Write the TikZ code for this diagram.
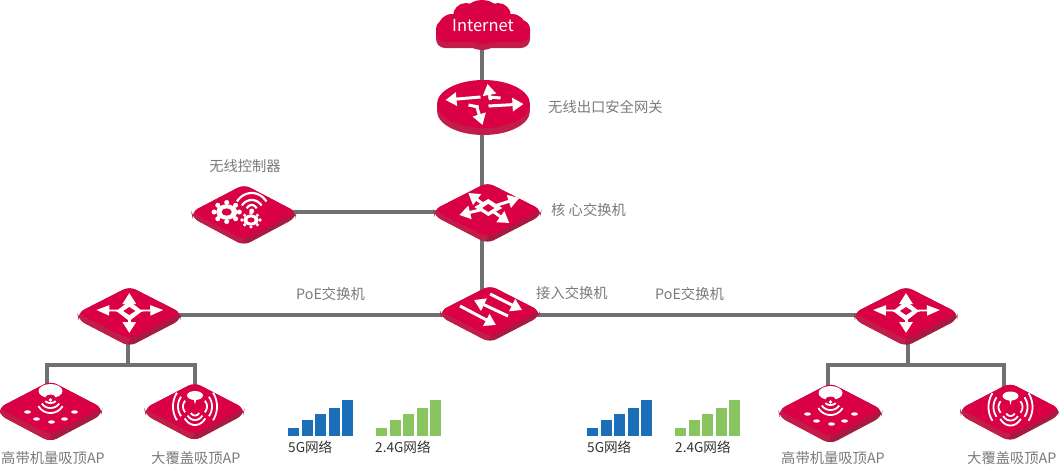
\documentclass[tikz,border=0pt]{standalone}
\usepackage{fontspec}
\setmainfont{Noto Sans CJK SC}
\usepackage{xcolor}
\usetikzlibrary{arrows.meta}
\definecolor{redtop}{HTML}{D90045}
\definecolor{redleft}{HTML}{C21D48}
\definecolor{redright}{HTML}{A81A3F}
\definecolor{wire}{HTML}{707070}
\definecolor{labelgray}{HTML}{7A7A7A}
\definecolor{barblue}{HTML}{1B6FB8}
\definecolor{bargreen}{HTML}{88C45F}
\newcommand{\wavearc}[7][1.8pt]{\draw[white,line width=#1] plot[domain=#6:#7,samples=16,smooth] ({#2+#4*cos(\x)},{#3+#5*sin(\x)});}
\tikzset{
  pics/tile/.style n args={3}{code={
    \fill[redright,rounded corners=7pt] (0,-#2-1.5) -- (#1+1.5,0) -- (#1+0.5,#3) -- (0,#2+#3+1.5) -- (-#1-0.5,#3) -- (-#1-1.5,0) -- cycle;
    \fill[redleft,rounded corners=7pt] (0,-5) -- (-#1-1.5,0) -- (-#1-0.5,#3) -- (0,#2+#3+1.5) -- cycle;
    \fill[redtop,rounded corners=7pt] (0,-#2-1.5) -- (#1+1.5,0) -- (0,#2+1.5) -- (-#1-1.5,0) -- cycle;
  }},
  pics/gear/.style n args={1}{code={
    \fill[white] (0,0) ellipse ({#1*0.75} and {#1*0.55});
    \foreach \ang in {0,45,...,315}
      \fill[white] (\ang:{#1*0.9} and {#1*0.68}) circle ({#1*0.18});
    \fill[redtop] (0,0) ellipse ({#1*0.36} and {#1*0.26});
  }}
}
\begin{document}
\begin{tikzpicture}[x=1pt,y=-1pt,
  every node/.style={font=\fontsize{14.3}{16}\selectfont,text=labelgray,inner sep=0pt},
  dev/.style={inner sep=0pt,minimum size=0pt},
  link/.style={draw=wire,line width=4pt},
  warrow/.style={white,line width=3pt,-{Triangle[width=13pt,length=11pt]}},
  wbar/.style={white,line width=3pt},
  wthin/.style={white,line width=1.8pt,-{Triangle[width=10pt,length=13pt]}},
  lab/.style={anchor=west},
  netlab/.style={anchor=west,text=black!80,font=\fontsize{13.6}{14}\selectfont}]
 \useasboundingbox (0,0) rectangle (1059,466);
 \node[dev] (inet)  at (482,24) {};
 \node[dev] (gw)    at (482,104) {};
 \node[dev] (core)  at (482,211) {};
 \node[dev] (ctrl)  at (244,212) {};
 \node[dev] (acc)   at (490,315) {};
 \node[dev] (poeL)  at (128,315) {};
 \node[dev] (poeR)  at (908,315) {};
 \node[dev] (apL1)  at (47,400) {};
 \node[dev] (apL2)  at (195,400) {};
 \node[dev] (apR1)  at (827.5,400) {};
 \node[dev] (apR2)  at (1004,400) {};
 \coordinate (busL) at (128,365);
 \coordinate (busR) at (908,365);
 % wires first, devices lie on top
 \draw[link] (inet) -- (gw);
 \draw[link] (gw) -- (core);
 \draw[link] (core) -- (core |- acc);
 \draw[link] (ctrl) -- (core |- ctrl);
 \draw[link] (poeL) -- (acc);
 \draw[link] (acc) -- (poeR);
 \draw[link] (poeL) -- (poeL |- busL);
 \draw[link] (poeR) -- (poeR |- busR);
 \draw[link] (apL1) |- (busL) -| (apL2);
 \draw[link] (apR1) |- (busR) -| (apR2);
 % cloud
 \foreach \dy/\cc in {6/redleft,0/redtop} {
   \fill[\cc] (482,22+\dy) circle (22pt);
   \fill[\cc] (452,28+\dy) circle (14pt);
   \fill[\cc] (512,28+\dy) circle (14pt);
   \fill[\cc] (466,16+\dy) circle (13pt);
   \fill[\cc] (498,16+\dy) circle (13pt);
   \fill[\cc,rounded corners=9pt] (436,20+\dy) rectangle (530,42+\dy);
 }
 \node[text=white,font=\fontsize{16.5}{20}\selectfont] (inettxt) at (483,26) {Internet};
 % gateway
 \fill[redleft] (483.5,111) ellipse (46.5pt and 24pt);
 \fill[redleft] (437,104) rectangle (530,111);
 \fill[redtop] (483.5,104) ellipse (46.5pt and 24pt);
 \begin{scope}[shift={(483.5,104)}]
  \draw[warrow] (-3,-7) -- (-38,-4);
  \draw[wbar] (17,-6) -- (5,-7);
  \draw[warrow] (7,-4) -- (4,-20);
  \draw[warrow] (5,2) -- (40,0);
  \draw[wbar] (-15,1) -- (-5,3);
  \draw[warrow] (-7,2) -- (-1,21);
 \end{scope}
 % core switch
 \pic at (487.5,210) {tile={52.5}{26}{6}};
 \begin{scope}[shift={(488.3,208)}]
  \draw[warrow] (0,0) -- (-20,-15);
  \draw[warrow] (0,0) -- (31,-10);
  \draw[warrow] (0,0) -- (-29,7);
  \draw[warrow] (0,0) -- (21,15);
  \fill[white] (-14,-1) -- (0,-9) -- (14,0) -- (0,8) -- cycle;
  \fill[redtop] (-6,0) -- (0,-4) -- (6,0) -- (0,4) -- cycle;
 \end{scope}
 % controller
 \pic at (244,212) {tile={51}{26}{6}};
 \pic at (226.7,212) {gear={14}};
 \pic at (251,220) {gear={10}};
 \fill[white] (251.7,211) circle (2.5pt);
 \wavearc[2.2pt]{251.7}{213}{18}{20}{215}{325}
 \wavearc[2.2pt]{251.7}{213}{12}{13}{215}{325}
 \wavearc[2.2pt]{251.7}{213}{6}{8}{215}{325}
 % access switch
 \pic at (490,311) {tile={48.5}{24}{6}};
 \begin{scope}[shift={(490,313)}]
  \draw[warrow] (0,-19) -- (32,-3);
  \draw[warrow] (18,3) -- (-16,-13);
  \draw[warrow] (-30,-7) -- (6,12);
 \end{scope}
 % PoE switches
 \foreach \px/\tx in {129.5/129.3,906/906} {
  \pic at (\px,313) {tile={50.5}{25}{7}};
  \begin{scope}[shift={(\tx,311)}]
   \draw[wthin] (0,0) -- (-33,-1);
   \draw[wthin] (0,0) -- (34,-1);
   \draw[warrow] (0,0) -- (0,-18);
   \draw[warrow] (0,0) -- (0,22);
   \fill[white] (0,-10) -- (13,0) -- (0,10) -- (-13,0) -- cycle;
   \fill[redtop] (0,-4) -- (6,0) -- (0,4) -- (-6,0) -- cycle;
  \end{scope}
 }
 % high density AP
 \foreach \ax/\ay in {50.5/408,830.5/410} {
  \pic at (\ax,\ay) {tile={50.5}{25.5}{7}};
  \begin{scope}[shift={(\ax,\ay)}]
   \fill[white] (0,-17) ellipse (12pt and 7pt);
   \fill[redtop] (0,-10.5) ellipse (5pt and 3pt);
   \fill[white] (0,-8) circle (1.8pt);
  \end{scope}
  \wavearc{\ax}{\ay-9}{6}{4}{30}{150}
  \wavearc{\ax}{\ay-9}{10}{9}{30}{150}
  \wavearc{\ax}{\ay-9}{14}{14}{30}{150}
  \begin{scope}[shift={(\ax,\ay)}]
   \foreach \dx/\dy in {-23/4,-14/11,1/14,14/11,24/4}
     \fill[white] (\dx,\dy) ellipse (3.4pt and 1.7pt);
  \end{scope}
 }
 % wide coverage AP
 \foreach \ax/\ay in {195/408.5,1010.5/409} {
  \pic at (\ax-0.5,\ay) {tile={48.5}{24.5}{6.5}};
  \fill[white] (\ax,\ay-13) ellipse (8pt and 4.5pt);
  \fill[white] (\ax,\ay-4) -- (\ax-1.2,\ay-9) -- (\ax+1.2,\ay-9) -- cycle;
  \wavearc{\ax}{\ay+1}{5}{6}{35}{145}
  \wavearc{\ax}{\ay+1}{9}{10.5}{35}{145}
  \wavearc{\ax}{\ay+1}{12.5}{15.5}{35}{145}
  \wavearc{\ax}{\ay-2}{12}{10}{145}{215}
  \wavearc{\ax}{\ay-2}{17}{17}{145}{215}
  \wavearc{\ax}{\ay-2}{22}{24}{145}{215}
  \wavearc{\ax}{\ay-2}{12}{10}{-35}{35}
  \wavearc{\ax}{\ay-2}{17}{17}{-35}{35}
  \wavearc{\ax}{\ay-2}{22}{24}{-35}{35}
 }
 % signal bars
 \foreach \bx/\cc in {288/barblue,376/bargreen,587/barblue,675/bargreen}
  \foreach \i/\t in {0/427.5,1/420,2/414,3/407.5,4/399.5}
   \fill[\cc] (\bx+13.5*\i,\t) rectangle (\bx+13.5*\i+11,435.5);
 \node[netlab] (n5a)  at (288,447) {5G网络};
 \node[netlab] (n24a) at (375,447) {2.4G网络};
 \node[netlab] (n5b)  at (587,447) {5G网络};
 \node[netlab] (n24b) at (675,447) {2.4G网络};
 \node[lab] (lgw)   at (548,107) {无线出口安全网关};
 \node (lctrl)      at (245,166) {无线控制器};
 \node[lab] (lcore) at (551,210) {核 心交换机};
 \node[lab] (lacc)  at (536,293) {接入交换机};
 \node[lab] (lpoeA) at (296,294) {PoE交换机};
 \node[lab] (lpoeB) at (655,294) {PoE交换机};
 \node[lab] (lap1)  at (1,458) {高带机量吸顶AP};
 \node[lab] (lap2)  at (151,458) {大覆盖吸顶AP};
 \node[lab] (lap3)  at (781,458) {高带机量吸顶AP};
 \node[lab] (lap4)  at (967,458) {大覆盖吸顶AP};
\end{tikzpicture}
\end{document}
